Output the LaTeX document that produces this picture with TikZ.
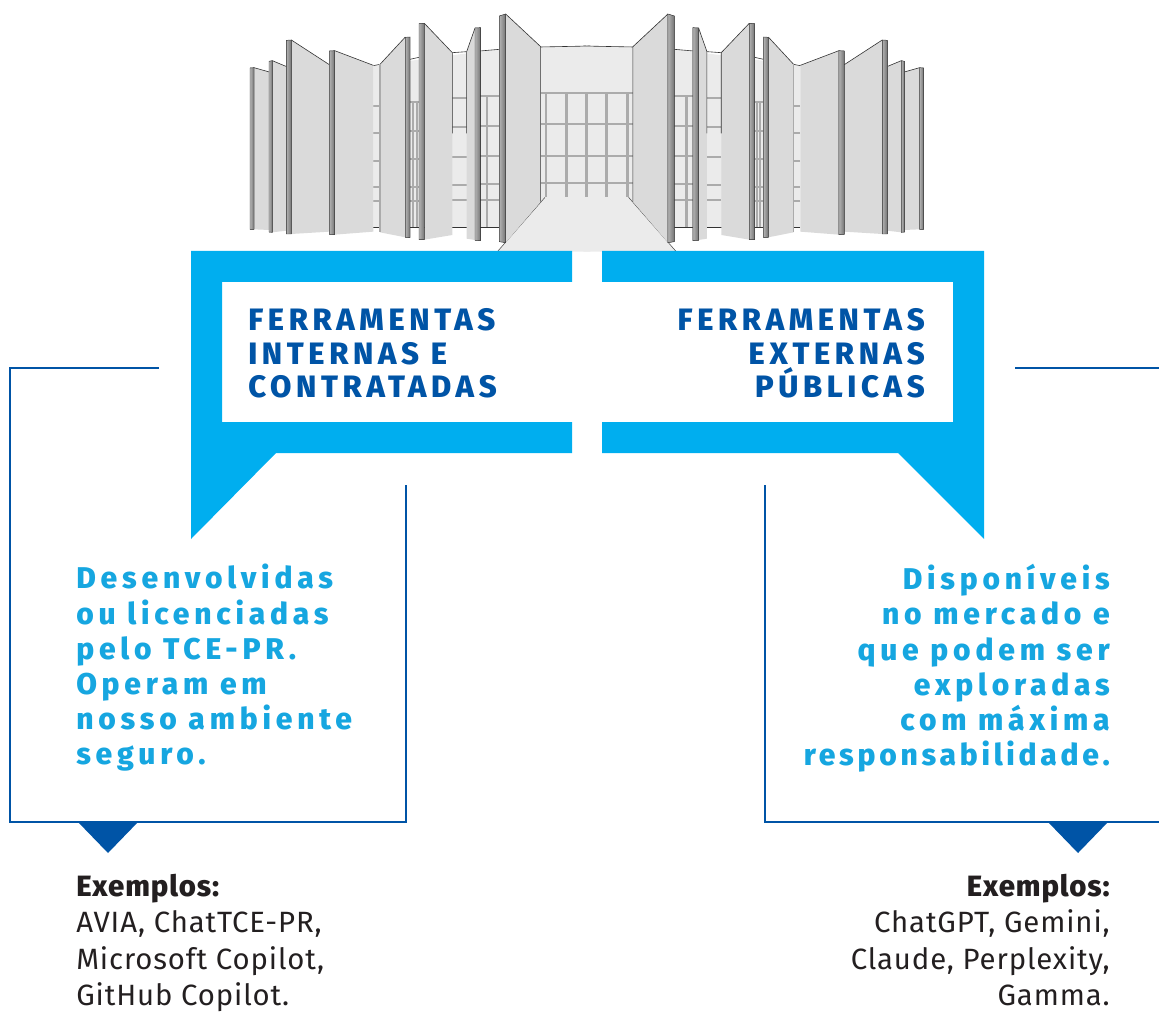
\documentclass[tikz,border=0pt]{standalone}
\usepackage{fontspec}
\setmainfont{Fira Sans}
\newfontfamily\headfont[LetterSpace=15]{Fira Sans ExtraBold}
\newfontfamily\subfont[LetterSpace=16]{Fira Sans ExtraBold}
\newfontfamily\subtight[LetterSpace=12.5]{Fira Sans ExtraBold}
\newfontfamily\exfont[LetterSpace=3]{Fira Sans}
\newfontfamily\exbold[LetterSpace=3]{Fira Sans ExtraBold}
\definecolor{cyanb}{HTML}{00AEEF}
\definecolor{subb}{HTML}{16A6E0}
\definecolor{navyb}{HTML}{0054A6}
\definecolor{darkt}{HTML}{231F20}
\definecolor{wallg}{HTML}{EBEBEB}
\definecolor{panelg}{HTML}{DADADA}
\definecolor{barg}{HTML}{ABABAB}
\tikzset{
 blueshape/.style={fill=cyanb,draw=none},
 frameline/.style={draw=navyb,line width=1.5pt,line join=miter},
 tri/.style={fill=navyb,draw=none},
 headl/.style={anchor=north west,inner sep=0pt,align=left,text=navyb,font=\headfont\fontsize{23.2pt}{25pt}\selectfont},
 headr/.style={anchor=north east,inner sep=0pt,align=right,text=navyb,font=\headfont\fontsize{23.2pt}{25pt}\selectfont},
 subl/.style={anchor=north west,inner sep=0pt,align=left,text=subb,font=\subfont\fontsize{22.5pt}{26.4pt}\selectfont},
 subr/.style={anchor=north east,inner sep=0pt,align=right,text=subb,font=\subfont\fontsize{22.5pt}{26.4pt}\selectfont},
 exl/.style={anchor=north west,inner sep=0pt,align=left,text=darkt,font=\exfont\fontsize{22pt}{27.2pt}\selectfont},
 exr/.style={anchor=north east,inner sep=0pt,align=right,text=darkt,font=\exfont\fontsize{22pt}{27.2pt}\selectfont},
 wall/.style={fill=wallg,draw=none},
 panel/.style={fill=panelg,draw=none},
 topline/.style={draw=black!80,line width=0.45pt},
 bar/.style={draw=barg,line width=1.4pt},
 column/.style={left color=black!30,right color=black!55,draw=black!75,line width=0.35pt},
 floorp/.style={fill=wallg,draw=none},
}
\newcommand{\halfbuilding}{%
 % back wall
 \fill[wall] (400,197)--(780,147)--(780,683)--(400,683)--cycle;
 \fill[wall] (780,141)--(1051,138)--(1051,700)--(780,700)--cycle;
 % window grid of the wings
 \foreach \y in {318,400,483,560,602}{\draw[bar] (400,\y)--(420,\y);}
 \foreach \y in {305,392,478,560,603}{\draw[bar] (510,\y)--(537,\y);}
 \foreach \y in {293,382,470,555,600}{\draw[bar] (637,\y)--(680,\y);}
 \foreach \y in {287,378,468,553,600}{\draw[bar] (720,\y)--(778,\y);}
 \foreach \x in {520,530}{\draw[bar] (\x,305)--(\x,683);}
 \draw[bar,line width=2pt] (741,287)--(741,683);
 % top and bottom lines of the wings
 \draw[topline] (400,197)--(420,193) (510,178)--(537,172) (637,158)--(680,155) (720,153)--(778,148);
 \draw[topline,line width=0.6pt] (400,683)--(780,683);
 % central room
 \draw[topline] (900,141)--(1051,138);
 \foreach \y in {280,373,467,550}{\draw[bar] (902,\y)--(1051,\y);}
 \foreach \x in {918,980,1040}{\draw[bar,line width=2.2pt] (\x,280)--(\x,592);}
 % floor
 \fill[floorp] (915,592)--(1051,592)--(1051,755)--(772,755)--cycle;
 \draw[draw=black!70,line width=0.4pt] (915,592)--(772,755);
 % panels
 \fill[panel] (42,203)--(88,216)--(88,690)--(42,688)--cycle;
 \draw[topline] (42,203)--(88,216);
 \fill[panel] (97,182)--(140,200)--(140,692)--(97,697)--cycle;
 \draw[topline] (97,182)--(140,200);
 \fill[panel] (154,120)--(268,194)--(268,695)--(154,702)--cycle;
 \draw[topline] (154,120)--(268,194);
 \fill[panel] (284,152)--(400,196)--(400,695)--(284,704)--cycle;
 \draw[topline] (284,152)--(400,196);
 \fill[panel] (420,193)--(496,111)--(496,712)--(420,697)--cycle;
 \draw[topline] (420,193)--(496,111);
 \fill[panel] (553,70)--(637,158)--(637,705)--(553,719)--cycle;
 \draw[topline] (553,70)--(637,158)--(637,400);
 \fill[panel] (680,155)--(705,84)--(705,720)--(680,716)--cycle;
 \draw[topline] (680,155)--(705,84) (680,155)--(680,400);
 \fill[panel] (797,42)--(902,140)--(902,605)--(797,728)--cycle;
 \draw[topline] (797,42)--(902,140)--(902,605);
 % columns
 \filldraw[column] (30,204)--(42,203)--(42,688)--(30,688)--cycle;
 \filldraw[column] (87,184)--(97,182)--(97,697)--(87,696)--cycle;
 \filldraw[column] (139,121)--(154,120)--(154,702)--(139,702)--cycle;
 \filldraw[column] (268,153)--(284,152)--(284,704)--(268,703)--cycle;
 \draw[barg,line width=1pt] (420,193)--(420,697);
 \filldraw[column] (496,112)--(510,111)--(510,713)--(496,712)--cycle;
 \filldraw[column] (537,71)--(553,70)--(553,719)--(537,719)--cycle;
 \filldraw[column] (705,84)--(722,83)--(722,722)--(705,721)--cycle;
 \filldraw[column] (778,48)--(797,42)--(797,728)--(778,725)--cycle;
}
\begin{document}
\begin{tikzpicture}[x=0.75pt,y=-0.75pt]
\useasboundingbox (0,0) rectangle (1159,1012);
\begin{scope}[shift={(240,0)},x=0.25pt,y=-0.25pt]
 \halfbuilding
\end{scope}
\begin{scope}[shift={(933.6,0)},x=-0.25pt,y=-0.25pt]
 \halfbuilding
\end{scope}
% blue brackets
\fill[blueshape] (191,251)--(572,251)--(572,282)--(222,282)--(222,422)--(572,422)--(572,453)--(276,453)--(191,539)--cycle;
\fill[blueshape] (984,251)--(602,251)--(602,282)--(953,282)--(953,422)--(602,422)--(602,453)--(898,453)--(984,539)--cycle;
% frames
\coordinate (la) at (159,368); \coordinate (lb) at (10,368); \coordinate (lc) at (10,822); \coordinate (ld) at (406,822); \coordinate (le) at (406,485);
\coordinate (ra) at (1015,368); \coordinate (rb) at (1159,368); \coordinate (rc) at (765,485); \coordinate (rd) at (765,822); \coordinate (re) at (1159,822);
\draw[frameline] (la)--(lb)--(lc)--(ld)--(le);
\draw[frameline] (ra)--(rb);
\draw[frameline] (rc)--(rd)--(re);
\fill[tri] (77,821)--(139,821)--(108,853)--cycle;
\fill[tri] (1047,821)--(1109,821)--(1078,853)--cycle;
% texts
\node[headl] (h1) at (248,308.5) {FERRAMENTAS\\INTERNAS E\\CONTRATADAS};
\node[headr] (h2) at (925,308.5) {FERRAMENTAS\\EXTERNAS\\PÚBLICAS};
\node[subl] (s1) at (76,564) {Desenvolvidas\\ou licenciadas\\pelo TCE-PR.\\Operam em\\nosso ambiente\\seguro.};
\node[subr] (s2) at (1110,564) {Disponíveis\\no mercado e\\que podem ser\\exploradas\\com máxima\\{\subtight responsabilidade.}};
\node[exl] (e1) at (76,874) {{\exbold Exemplos:}\\AVIA, ChatTCE-PR,\\Microsoft Copilot,\\GitHub Copilot.};
\node[exr] (e2) at (1110,874) {{\exbold Exemplos:}\\ChatGPT, Gemini,\\Claude, Perplexity,\\Gamma.};
\end{tikzpicture}
\end{document}
